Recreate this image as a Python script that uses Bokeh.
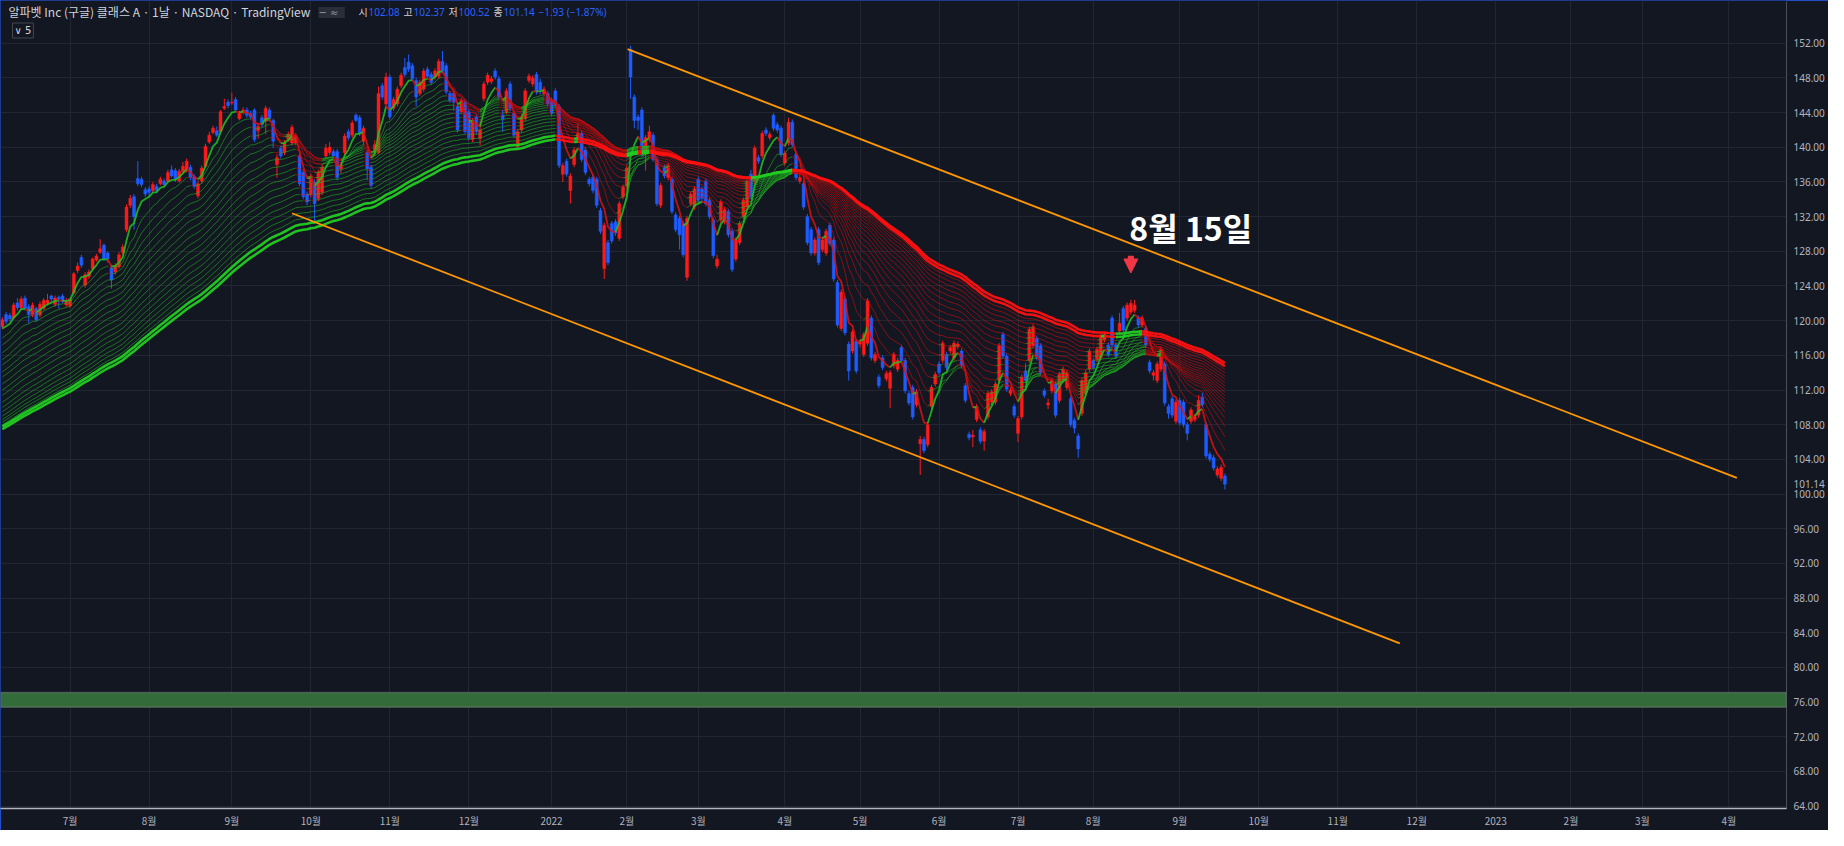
import numpy as np
import pandas as pd
from bokeh.plotting import figure
from bokeh.models import (ColumnDataSource, FixedTicker, Label, BoxAnnotation, Range1d,
                          NumeralTickFormatter, Arrow, NormalHead)
from bokeh.embed import file_html
from bokeh.resources import INLINE

# ---------------- data ----------------
first_date = "2021-06-07"

opens = [119.3,120.7,120.6,120.3,122.05,121.5,122.6,121.6,120.7,121.4,120.65,121.4,122.0,122.85,121.9,122.7,122.85,121.8,121.7,
 123.2,125.8,127.3,124.1,125.1,126.0,127.0,127.9,128.7,127.8,
 126.1,125.6,126.2,127.85,130.5,133.3,134.3,136.4,136.3,135.1,
 135.2,135.0,135.5,135.8,136.1,136.1,137.4,137.3,136.1,137.2,
 137.4,137.7,136.6,134.4,136.1,137.8,140.6,141.7,141.9,141.8,
 144.5,145.2,145.1,145.5,143.3,144.0,144.3,143.9,144.3,141.9,
 143.4,143.0,144.3,143.1,138.0,139.9,139.4,140.9,140.5,140.5,
 139.0,137.1,134.6,134.5,136.0,134.1,134.8,139.0,139.4,139.5,
 139.5,137.5,139.4,141.8,141.4,143.7,143.4,140.7,139.4,137.7,
 139.5,139.4,147.1,145.0,148.1,144.5,145.0,147.1,149.2,149.8,
 149.4,147.7,146.2,146.7,149.0,148.4,148.1,148.2,149.9,149.4,
 146.2,146.2,144.7,144.1,145.2,144.1,140.9,143.5,141.0,145.6,
 147.5,147.6,148.8,147.9,143.7,144.1,147.3,143.9,140.1,142.0,
 143.3,147.7,147.3,148.4,147.5,146.2,146.2,145.4,146.5,144.7,
 136.9,138.4,135.0,138.0,140.9,141.6,139.7,136.3,136.5,136.3,
 132.7,126.0,129.0,131.2,131.4,129.5,134.3,135.6,151.3,145.8,
 143.5,144.3,139.4,140.9,141.4,138.6,133.3,137.7,136.5,136.3,
 132.2,131.8,131.2,125.0,133.5,133.1,136.3,135.2,136.1,133.9,
 131.6,126.3,131.6,131.4,132.6,130.3,127.1,129.0,132.0,133.1,
 136.9,136.1,138.8,139.0,142.0,141.1,143.7,142.6,142.2,138.2,
 140.5,142.9,139.2,136.1,135.8,132.0,130.5,127.8,130.5,128.2,
 127.8,131.0,129.3,124.4,119.1,122.5,117.3,116.5,117.6,117.3,
 116.1,117.4,120.3,115.4,113.5,115.7,113.3,112.2,114.8,114.4,
 116.9,115.4,111.6,112.3,110.3,105.8,106.3,105.7,110.1,112.7,
 115.0,115.4,116.1,116.5,115.7,117.0,116.5,112.5,106.9,106.6,
 108.6,107.4,106.1,108.9,110.6,110.6,113.1,118.4,115.9,111.6,
 110.1,107.0,108.9,114.2,115.4,117.1,118.0,117.1,111.9,110.3,
 111.9,112.7,110.8,113.1,112.3,111.0,108.5,106.7,109.3,111.6,
 114.4,115.4,115.5,115.7,117.8,117.2,120.3,117.2,118.8,121.4,
 120.3,121.0,121.2,120.3,119.5,119.1,115.2,113.7,113.1,114.4,
 115.0,110.1,111.0,108.4,110.8,110.6,108.0,108.4,108.6,109.1,
 111.2,108.0,104.6,104.2,102.2,101.8,102.08]

closes = [120.1,119.9,120.2,121.8,121.5,122.5,121.4,120.7,121.8,120.1,121.9,122.35,122.35,122.5,122.6,122.5,122.2,122.3,122.5,
 125.4,126.3,126.4,125.3,125.6,127.1,127.45,128.3,127.1,127.1,
 124.7,126.3,127.6,128.5,133.1,134.1,132.0,135.8,135.7,134.6,
 134.8,135.7,135.0,136.3,135.7,137.1,136.7,136.3,137.2,137.8,
 138.4,136.5,135.5,135.8,137.6,140.1,141.4,142.2,141.4,144.1,
 144.7,144.8,145.2,144.3,143.9,144.3,143.7,143.5,140.9,142.4,
 142.6,144.5,143.3,140.7,138.8,139.0,140.5,141.5,142.3,141.3,
 135.8,134.3,133.7,136.7,133.5,137.1,137.7,139.9,140.0,139.0,
 136.5,137.9,141.3,141.1,142.8,143.1,141.6,142.2,137.5,135.6,
 140.3,146.2,145.8,148.1,143.5,145.5,146.7,148.3,148.4,149.0,
 147.9,145.8,147.5,148.8,148.2,147.5,148.8,149.9,148.8,146.4,
 145.4,145.2,142.0,145.4,141.8,141.1,143.1,141.8,142.0,147.3,
 148.3,147.9,148.1,145.8,143.3,146.5,144.5,141.4,141.8,143.5,
 146.5,148.2,148.0,146.4,146.6,146.7,145.0,143.9,144.8,137.9,
 137.9,136.9,136.7,139.7,141.6,138.6,137.1,135.8,135.0,133.3,
 130.3,131.0,126.7,129.2,130.1,133.5,135.4,137.6,148.1,143.1,
 143.1,139.2,141.1,141.8,138.6,133.5,135.6,136.7,137.9,132.6,
 130.5,129.9,127.6,131.8,134.6,135.2,133.9,134.1,133.5,132.0,
 127.5,127.1,133.7,132.8,129.9,125.9,129.3,131.2,133.9,136.1,
 134.3,139.9,138.4,141.6,141.6,141.5,142.2,142.0,139.2,139.3,
 142.9,140.3,136.5,136.5,133.1,129.0,127.8,129.3,126.7,129.3,
 130.3,128.9,124.8,119.5,123.3,118.6,114.2,118.7,114.2,117.6,
 118.4,122.3,115.7,116.1,112.5,114.6,113.9,114.0,116.1,115.4,
 115.4,111.9,110.5,108.9,111.8,106.3,105.0,108.0,112.3,113.8,
 114.0,117.4,114.6,116.9,117.4,117.3,114.8,110.8,106.5,106.8,
 110.1,106.1,107.2,111.6,111.8,112.7,117.1,115.9,112.1,112.0,
 109.1,108.7,113.5,113.1,119.0,119.3,115.7,114.0,111.4,110.5,
 113.1,109.1,113.8,114.4,114.0,108.0,107.6,105.2,113.1,114.0,
 116.5,114.6,116.7,118.2,118.4,116.1,117.2,115.9,119.7,118.9,
 121.8,122.0,121.8,119.5,120.3,117.2,114.2,114.0,115.0,116.7,
 110.5,109.3,109.1,110.6,108.2,108.0,107.0,109.7,108.9,110.8,
 110.3,104.4,104.0,103.0,102.9,103.07,101.14]

highs = [120.4,121.0,120.9,122.1,122.6,122.8,122.9,121.9,122.1,121.6,122.2,122.6,123.1,123.0,122.9,122.9,123.1,122.6,122.7,
 125.6,126.7,127.6,125.6,125.9,127.3,127.7,129.4,128.9,128.0,
 126.3,126.6,127.9,128.8,133.4,134.5,134.6,138.4,136.6,135.4,
 135.5,136.0,135.8,136.6,136.4,137.4,137.9,137.6,137.5,138.3,
 138.7,138.0,136.9,136.1,137.9,140.4,141.8,142.5,142.4,144.3,
 145.6,145.5,146.3,145.8,144.2,144.6,144.6,144.2,144.5,142.7,
 143.7,144.8,144.6,143.3,139.2,140.2,140.8,141.8,142.6,141.6,
 139.3,137.4,134.9,137.0,136.3,137.4,138.0,140.4,140.6,139.8,
 139.8,138.2,141.6,142.1,143.1,143.9,143.7,142.5,139.7,138.0,
 140.8,147.0,147.4,148.6,148.4,145.8,147.0,148.6,150.3,150.7,
 149.7,148.0,147.8,149.1,149.3,148.7,149.1,150.2,151.1,149.7,
 146.5,146.5,145.0,145.7,145.5,144.4,143.4,143.8,143.1,147.6,
 148.6,148.2,149.1,148.2,144.3,146.8,147.6,144.2,142.1,143.8,
 146.8,148.5,148.3,148.7,147.9,147.0,146.5,145.7,146.8,145.0,
 138.2,138.7,137.0,140.0,142.8,141.9,140.0,136.6,136.8,136.6,
 133.0,131.3,129.3,131.5,131.7,133.8,135.7,137.9,151.7,146.1,
 143.8,144.6,141.4,142.5,141.7,138.9,135.9,138.0,138.2,136.6,
 132.5,132.1,131.5,132.1,134.9,135.5,136.6,135.5,136.4,134.2,
 131.9,127.6,134.0,133.1,132.9,130.6,129.6,131.5,134.2,136.4,
 137.4,140.2,139.1,141.9,142.3,141.8,143.9,142.9,142.5,139.6,
 143.4,143.2,139.5,137.4,136.1,132.3,130.8,129.6,130.8,129.6,
 130.6,131.3,129.6,124.7,123.6,122.8,117.6,119.0,117.9,117.9,
 118.7,122.6,120.6,116.4,113.8,116.0,114.2,114.3,116.4,115.7,
 117.2,115.7,111.9,112.6,112.1,106.7,106.6,108.3,112.6,114.1,
 115.3,117.7,116.4,117.2,117.7,117.6,116.8,112.8,107.2,107.4,
 110.4,107.7,107.5,111.9,112.1,113.0,117.4,118.7,116.2,112.3,
 110.4,109.0,113.8,115.1,119.3,119.6,118.3,117.4,112.2,111.0,
 113.4,113.0,114.1,114.7,114.3,111.3,108.8,107.0,113.4,114.3,
 116.8,115.7,117.0,118.5,118.7,117.5,120.6,117.5,120.9,121.7,
 122.1,122.4,122.4,120.6,120.6,119.4,115.5,114.3,115.3,117.0,
 115.3,110.4,111.3,110.9,111.1,110.9,108.3,110.0,109.2,111.4,
 111.7,108.3,104.9,104.5,103.2,103.4,102.37]

lows = [119.0,119.6,119.9,120.1,121.2,121.3,121.2,119.7,120.4,119.9,120.4,121.2,121.8,122.2,121.6,121.4,122.0,121.6,121.5,
 123.0,125.5,126.1,123.8,124.8,125.8,126.8,127.7,126.9,126.7,
 123.7,125.3,126.0,127.6,130.2,133.0,130.5,135.5,135.4,134.3,
 134.3,134.8,134.7,135.6,135.4,135.9,136.5,136.0,135.9,137.0,
 137.1,136.2,135.2,134.1,135.8,137.6,140.4,141.5,141.2,141.6,
 144.3,144.5,144.9,144.1,143.1,143.8,143.4,143.2,140.6,141.0,
 142.3,141.5,143.0,139.9,136.5,138.7,139.1,140.6,140.2,140.2,
 135.5,134.0,133.3,134.2,131.4,133.8,134.5,138.7,139.1,138.7,
 136.2,137.0,139.1,140.8,141.1,142.9,141.3,140.2,136.2,135.3,
 139.0,139.2,145.5,144.7,143.2,144.2,144.7,146.8,148.1,148.7,
 147.6,144.7,145.9,146.4,147.9,147.2,147.8,147.9,148.5,146.1,
 145.1,144.2,141.7,143.8,141.5,140.8,140.6,141.5,140.2,145.3,
 147.2,147.3,147.8,145.5,141.8,143.8,144.2,141.1,139.8,141.7,
 143.0,147.4,147.0,146.1,146.1,145.9,144.7,143.6,144.5,137.6,
 136.0,136.6,133.5,137.7,140.6,138.3,136.8,135.5,134.7,133.0,
 130.0,124.8,126.4,128.9,129.8,129.2,134.0,135.3,145.6,142.2,
 142.0,138.9,137.3,140.6,138.3,133.2,133.0,136.4,136.2,132.3,
 130.2,128.2,127.3,124.6,133.2,132.8,133.6,133.8,133.2,131.7,
 127.2,126.0,131.3,131.1,129.6,125.6,126.8,128.7,131.7,132.8,
 134.0,135.8,138.1,138.7,141.3,140.8,141.9,141.7,138.9,137.9,
 140.2,140.0,136.2,135.8,132.8,128.7,127.5,127.5,126.4,127.9,
 127.5,128.6,124.5,119.2,118.8,118.3,113.1,116.2,113.9,116.9,
 115.8,117.1,115.4,115.1,112.2,114.3,113.0,109.9,114.5,114.1,
 115.1,111.6,110.2,108.6,110.0,102.2,104.7,105.4,109.8,112.4,
 113.7,115.1,114.3,116.2,115.4,116.7,114.5,110.5,106.2,105.4,
 108.3,105.8,105.0,108.6,110.3,110.3,112.8,115.6,111.8,111.3,
 108.8,106.0,108.6,112.8,115.1,116.8,115.4,113.7,111.1,109.8,
 111.6,108.8,110.5,112.8,112.0,107.7,107.0,104.2,109.0,111.3,
 114.1,114.3,115.2,115.4,117.5,115.8,116.9,115.6,118.5,118.6,
 120.0,120.7,120.9,119.2,119.2,116.9,113.9,113.1,112.8,114.1,
 110.2,108.7,108.8,108.1,107.9,107.7,106.2,108.1,108.3,108.8,
 110.0,104.1,103.7,102.7,101.9,101.5,100.52]

ema_periods = [5, 10, 15, 20, 25, 30, 35, 40, 45, 50, 55, 60, 65, 70, 75, 80, 85, 90, 95, 100]
ema_start = [119.1, 118.0, 117.2, 116.3, 115.5, 114.9, 114.1, 113.5, 112.7, 112.0,
             111.4, 110.6, 110.0, 109.5, 109.0, 108.6, 108.3, 108.0, 107.8, 107.5]

holidays = ["2021-07-05", "2021-09-06", "2021-11-25", "2021-12-24", "2022-01-17", "2022-02-21",
            "2022-04-15", "2022-05-30", "2022-06-20", "2022-07-04", "2022-09-05", "2022-11-24",
            "2022-12-26", "2023-01-02", "2023-01-16", "2023-02-20", "2023-04-07", "2023-05-29"]
month_starts = ["2021-07", "2021-08", "2021-09", "2021-10", "2021-11", "2021-12", "2022-01", "2022-02",
                "2022-03", "2022-04", "2022-05", "2022-06", "2022-07", "2022-08", "2022-09", "2022-10",
                "2022-11", "2022-12", "2023-01", "2023-02", "2023-03", "2023-04"]
month_labels = ["7월", "8월", "9월", "10월", "11월", "12월", "2022", "2월", "3월", "4월", "5월", "6월",
                "7월", "8월", "9월", "10월", "11월", "12월", "2023", "2월", "3월", "4월"]
price_ticks = [64, 68, 72, 76, 80, 84, 88, 92, 96, 100, 104, 108, 112, 116, 120, 124, 128,
               132, 136, 140, 144, 148, 152]

# drawings (bar position counted from 2021-07-01, price)
upper_line_x = [148.2, 443.1]
upper_line_y = [151.33, 101.86]
lower_line_x = [59.0, 353.5]
lower_line_y = [132.39, 82.78]
zone_bottom, zone_top = 75.4, 77.1
note_text = "8월 15일"
note_x, note_y = 281.6, 130.8
arrow_x, arrow_top, arrow_tip = 282.0, 127.5, 125.5

title_text = "알파벳 Inc (구글) 클래스 A · 1날 · NASDAQ · TradingView"

assert len(opens) == len(closes) == len(highs) == len(lows)

# ---------------- calendar -> bar positions ----------------
cal = pd.bdate_range("2021-06-01", "2023-05-31")
cal = cal[~cal.isin(pd.to_datetime(holidays))]
pos = {d: i for i, d in enumerate(cal)}
origin = pos[pd.Timestamp("2021-07-01")]
x0 = pos[pd.Timestamp(first_date)] - origin
xs = np.arange(len(closes)) + x0
ym = cal.strftime("%Y-%m")
tick_pos = [int(pos[cal[ym == m][0]] - origin) for m in month_starts]

o = np.array(opens); c = np.array(closes); h = np.array(highs); l = np.array(lows)
UP, DOWN = "#ff1a1a", "#1e5cff"
col = np.where(c >= o, UP, DOWN)

BG = "#131722"
W, H = 1828, 830
RB = 42
p = figure(width=W, height=H, output_backend="svg", toolbar_location=None,
           x_range=Range1d(-18.5, 456.3), y_range=Range1d(63.73, 156.93),
           background_fill_color=BG, border_fill_color=BG, y_axis_location="right",
           min_border_left=0, min_border_top=0, min_border_bottom=18, min_border_right=RB)
p.styles = {"outline": "2px solid #2962ff", "outline-offset": "-2px"}
p.outline_line_color = None

# axes
p.xaxis.ticker = FixedTicker(ticks=tick_pos)
p.xaxis.major_label_overrides = {t: s for t, s in zip(tick_pos, month_labels)}
p.xaxis.major_label_text_font = "Noto Sans CJK KR"
p.xaxis.major_label_text_font_size = "10px"
p.xaxis.major_label_text_color = "#b2b5be"
p.xaxis.major_tick_line_color = None
p.xaxis.minor_tick_line_color = None
p.xaxis.major_tick_out = 0
p.xaxis.major_tick_in = 0
p.xaxis.minor_tick_out = 0
p.xaxis.axis_label_standoff = 0
p.xaxis.axis_line_color = "#b2b5be"
p.xaxis.axis_line_width = 1.5
p.xaxis.major_label_standoff = 4

p.yaxis.ticker = FixedTicker(ticks=price_ticks + [closes[-1]])
p.yaxis.formatter = NumeralTickFormatter(format="0.00")
p.yaxis.major_label_text_font = "Noto Sans"
p.yaxis.major_label_text_font_size = "10px"
p.yaxis.major_label_text_color = "#b2b5be"
p.yaxis.major_tick_line_color = None
p.yaxis.minor_tick_line_color = None
p.yaxis.major_tick_out = 0
p.yaxis.major_tick_in = 0
p.yaxis.minor_tick_out = 0
p.yaxis.axis_label_standoff = 0
p.yaxis.axis_line_color = None
p.yaxis.major_label_standoff = 7

p.xgrid.ticker = FixedTicker(ticks=tick_pos)
p.ygrid.ticker = FixedTicker(ticks=price_ticks)
p.xgrid.grid_line_color = "#222632"
p.ygrid.grid_line_color = "#222632"

# green zone
p.add_layout(BoxAnnotation(bottom=zone_bottom, top=zone_top, fill_color="#346b3b", fill_alpha=1.0,
                           line_color="#a5a8b0", line_width=1.5, level="underlay"))

# candles
src = ColumnDataSource(dict(x=xs, o=o, h=h, l=l, c=c, top=np.maximum(o, c),
                            bot=np.minimum(o, c), col=col))
p.segment(x0="x", y0="h", x1="x", y1="l", line_color="col", line_width=1, source=src)
p.vbar(x="x", width=0.78, top="top", bottom="bot", fill_color="col", line_color="col",
       line_width=0.5, source=src)

# EMA ribbon, each run coloured by slope
rx, ry, rc, rw, ra = [], [], [], [], []
for n, e0 in zip(ema_periods, ema_start):
    a = 2.0 / (n + 1)
    e = np.empty(len(c)); e[0] = e0
    for t in range(1, len(c)):
        e[t] = e[t - 1] + a * (c[t] - e[t - 1])
    up = np.diff(e) >= 0
    thick = n >= 95
    fast = n == 5
    s = 0
    for t in range(1, len(up) + 1):
        if t == len(up) or up[t] != up[s]:
            rx.append(list(xs[s:t + 1].astype(float)))
            ry.append(list(e[s:t + 1]))
            if thick:
                rc.append("#22cc22" if up[s] else "#ff1010"); rw.append(2.6); ra.append(0.95)
            elif fast:
                rc.append("#22c422" if up[s] else "#e01010"); rw.append(1.8); ra.append(0.85)
            else:
                rc.append("#1fb31f" if up[s] else "#d00c0c"); rw.append(1.0); ra.append(0.6)
            s = t
p.multi_line(xs="xs", ys="ys", line_color="c", line_width="w", line_alpha="a",
             source=ColumnDataSource(dict(xs=rx, ys=ry, c=rc, w=rw, a=ra)), line_join="round")

# trend lines
p.line(upper_line_x, upper_line_y, line_color="#ff9800", line_width=1.8)
p.line(lower_line_x, lower_line_y, line_color="#ff9800", line_width=1.8)

# note + arrow
p.add_layout(Arrow(end=NormalHead(size=14, fill_color="#f23645", line_color="#f23645"),
                   x_start=arrow_x, y_start=arrow_top, x_end=arrow_x, y_end=arrow_tip,
                   line_color="#f23645", line_width=6))
p.add_layout(Label(x=note_x, y=note_y, text=note_text, text_color="#ffffff",
                   text_font="Noto Sans CJK KR", text_font_style="bold", text_font_size="32px",
                   text_baseline="middle", text_align="left"))

# header
p.add_layout(Label(x=8, y=11, x_units="canvas", y_units="canvas", text=title_text,
                   text_color="#d1d4dc", text_font="Noto Sans CJK KR", text_font_size="12px",
                   text_baseline="middle"))
p.add_layout(Label(x=318, y=12, x_units="canvas", y_units="canvas", text=" − ≈ ",
                   text_color="#9598a1", text_font="DejaVu Sans", text_font_size="10px",
                   text_baseline="middle", background_fill_color="#2a2e39"))
chg = closes[-1] - closes[-2]
pct = chg / closes[-2] * 100
vals = [("시", opens[-1]), ("고", highs[-1]), ("저", lows[-1]), ("종", closes[-1])]
hx = 358
for k, v in vals:
    p.add_layout(Label(x=hx, y=11, x_units="canvas", y_units="canvas", text=k,
                       text_color="#d1d4dc", text_font="Noto Sans CJK KR", text_font_size="10px",
                       text_baseline="middle"))
    p.add_layout(Label(x=hx + 10, y=11, x_units="canvas", y_units="canvas", text=f"{v:.2f}",
                       text_color="#2962ff", text_font="Noto Sans", text_font_size="10px",
                       text_baseline="middle"))
    hx += 45
p.add_layout(Label(x=hx, y=11, x_units="canvas", y_units="canvas",
                   text=f"{chg:+.2f} ({pct:+.2f}%)".replace("-", "−"),
                   text_color="#2962ff", text_font="Noto Sans", text_font_size="10px",
                   text_baseline="middle"))
p.add_layout(Label(x=12, y=30, x_units="canvas", y_units="canvas", text="∨ 5",
                   text_color="#d1d4dc", text_font="DejaVu Sans", text_font_size="10px",
                   text_baseline="middle", border_line_color="#434651", padding=2))

open("out.html", "w").write(file_html(p, INLINE))
